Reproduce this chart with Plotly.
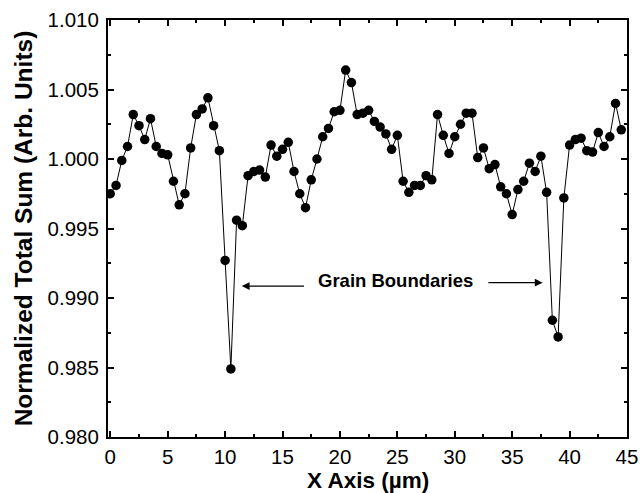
import plotly.graph_objects as go

x_um = [0, 0.5, 1, 1.5, 2, 2.5, 3, 3.5, 4, 4.5,
        5, 5.5, 6, 6.5, 7, 7.5, 8, 8.5, 9, 9.5,
        10, 10.5, 11, 11.5, 12, 12.5, 13, 13.5, 14, 14.5,
        15, 15.5, 16, 16.5, 17, 17.5, 18, 18.5, 19, 19.5,
        20, 20.5, 21, 21.5, 22, 22.5, 23, 23.5, 24, 24.5,
        25, 25.5, 26, 26.5, 27, 27.5, 28, 28.5, 29, 29.5,
        30, 30.5, 31, 31.5, 32, 32.5, 33, 33.5, 34, 34.5,
        35, 35.5, 36, 36.5, 37, 37.5, 38, 38.5, 39, 39.5,
        40, 40.5, 41, 41.5, 42, 42.5, 43, 43.5, 44, 44.5]

total_sum = [0.9975, 0.9981, 0.9999, 1.0009, 1.0032, 1.0024, 1.0014, 1.0029, 1.0009, 1.0004,
             1.0003, 0.9984, 0.9967, 0.9975, 1.0008, 1.0032, 1.0036, 1.0044, 1.0024, 1.0006,
             0.9927, 0.9849, 0.9956, 0.9952, 0.9988, 0.9991, 0.9992, 0.9987, 1.0010, 1.0002,
             1.0007, 1.0012, 0.9991, 0.9975, 0.9965, 0.9985, 1.0000, 1.0016, 1.0022, 1.0034,
             1.0035, 1.0064, 1.0055, 1.0032, 1.0033, 1.0035, 1.0027, 1.0023, 1.0018, 1.0007,
             1.0017, 0.9984, 0.9976, 0.9981, 0.9981, 0.9988, 0.9985, 1.0032, 1.0017, 1.0004,
             1.0016, 1.0025, 1.0033, 1.0033, 1.0001, 1.0008, 0.9993, 0.9996, 0.9980, 0.9975,
             0.9960, 0.9978, 0.9984, 0.9997, 0.9991, 1.0002, 0.9976, 0.9884, 0.9872, 0.9972,
             1.0010, 1.0014, 1.0015, 1.0006, 1.0005, 1.0019, 1.0009, 1.0016, 1.0040, 1.0021]

x_ticks = [0, 5, 10, 15, 20, 25, 30, 35, 40, 45]
y_ticks = [0.980, 0.985, 0.990, 0.995, 1.000, 1.005, 1.010]
y_tick_labels = ["0.980", "0.985", "0.990", "0.995", "1.000", "1.005", "1.010"]

x_title = "X Axis (µm)"
y_title = "Normalized Total Sum (Arb. Units)"

annot_text = "Grain Boundaries"
annot_text_pos = (24.8, 0.99125)
left_arrow = ((17.0, 0.99086), (11.45, 0.99086))
right_arrow = ((32.8, 0.99110), (37.65, 0.99110))

FONT = "Liberation Sans, Arial, sans-serif"

fig = go.Figure()
fig.add_trace(go.Scatter(
    x=x_um, y=total_sum, mode="lines+markers",
    line=dict(color="black", width=1),
    marker=dict(color="black", size=9.5, symbol="circle"),
    showlegend=False,
))

fig.add_annotation(x=annot_text_pos[0], y=annot_text_pos[1], text="<b>" + annot_text + "</b>",
                   showarrow=False, font=dict(family=FONT, size=18.5, color="black"),
                   xref="x", yref="y")
for (tail, head) in (left_arrow, right_arrow):
    fig.add_annotation(x=head[0], y=head[1], ax=tail[0], ay=tail[1],
                       xref="x", yref="y", axref="x", ayref="y",
                       text="", showarrow=True, arrowhead=2, arrowsize=1.3,
                       arrowwidth=1.2, arrowcolor="black")

# x-axis title placed below the tick labels
fig.add_annotation(x=0.5, y=-0.104, xref="paper", yref="paper",
                   xanchor="center", yanchor="middle", showarrow=False,
                   text="<b>" + x_title + "</b>",
                   font=dict(family=FONT, size=22.5, color="black"))

axis_common = dict(
    showline=True, linecolor="black", linewidth=2, mirror="ticks",
    ticks="inside", ticklen=6, tickwidth=2, tickcolor="black",
    showgrid=False, zeroline=False, automargin=False,
    tickfont=dict(family=FONT, size=20.5, color="black"),
)

fig.update_xaxes(
    range=[-0.2, 45], tickvals=x_ticks, ticklabelstandoff=0,
    minor=dict(ticks="inside", ticklen=3, tickwidth=2, tickcolor="black", dtick=2.5, tick0=0),
    **axis_common,
)
fig.update_yaxes(
    range=[0.980, 1.010], tickvals=y_ticks, ticktext=y_tick_labels, ticklabelstandoff=3,
    title=dict(text="<b>" + y_title + "</b>", font=dict(family=FONT, size=24.5, color="black"), standoff=8),
    minor=dict(ticks="inside", ticklen=3, tickwidth=2, tickcolor="black", dtick=0.0025, tick0=0.98),
    **axis_common,
)

fig.update_layout(
    width=640, height=493,
    margin=dict(l=108, r=13, t=20, b=56, autoexpand=False),
    plot_bgcolor="white", paper_bgcolor="white",
    font=dict(family=FONT, color="black"),
)

fig.write_html("out.html")
